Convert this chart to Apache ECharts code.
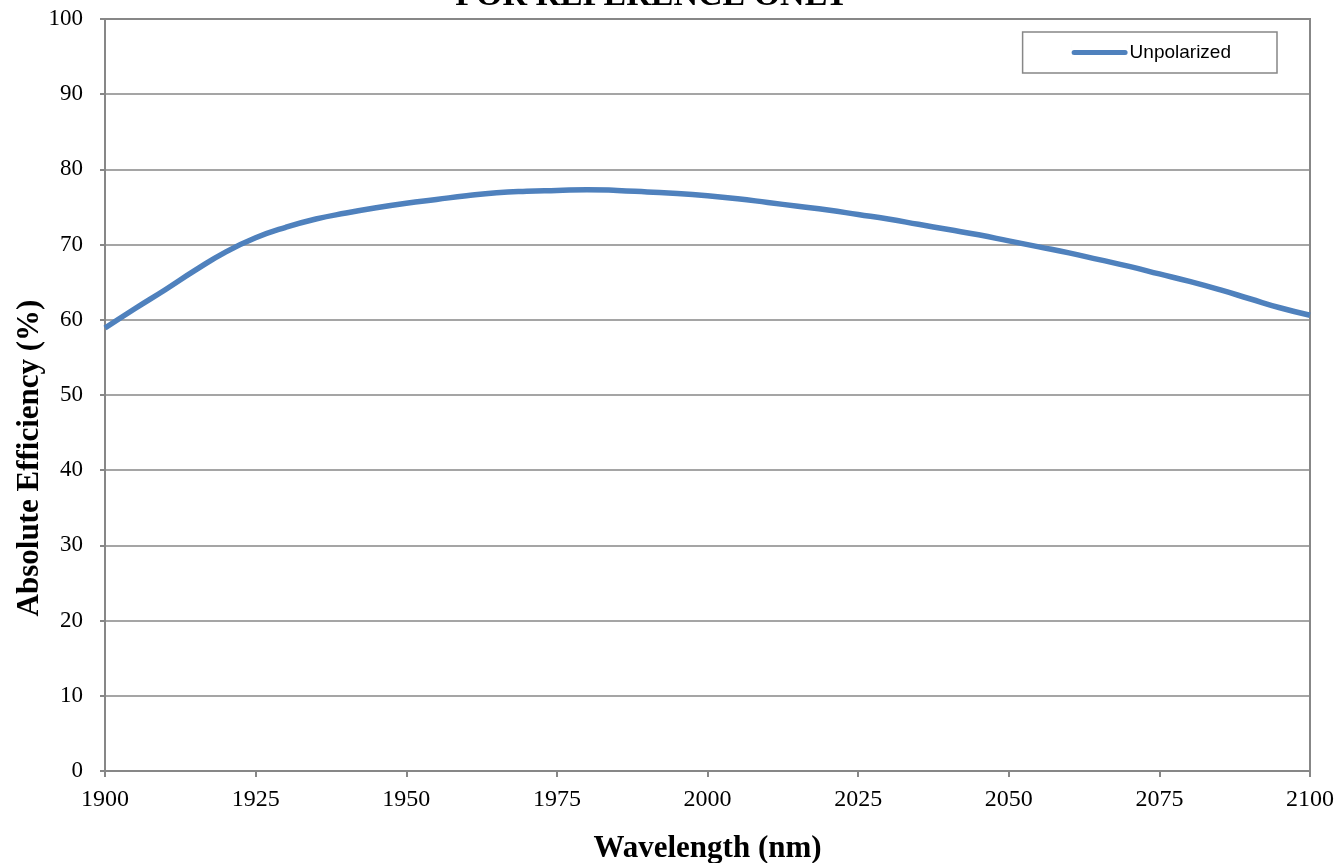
<!DOCTYPE html>
<html><head><meta charset="utf-8">
<script src="https://cdn.jsdelivr.net/npm/echarts@6/dist/echarts.min.js"></script>
<style>html,body{margin:0;padding:0;background:#fff}#c{width:1343px;height:863px}</style>
</head><body><div id="c"></div>
<script>
const wavelengths = [1900,1905,1910,1915,1920,1925,1930,1935,1940,1945,1950,1955,1960,1965,1970,1975,1980,1985,1990,1995,2000,2005,2010,2015,2020,2025,2030,2035,2040,2045,2050,2055,2060,2065,2070,2075,2080,2085,2090,2095,2100];
const unpolarized = [58.9,61.5,64.0,66.6,69.0,70.9,72.3,73.4,74.2,74.9,75.5,76.0,76.5,76.9,77.1,77.2,77.3,77.2,77.0,76.8,76.5,76.1,75.6,75.1,74.6,74.0,73.4,72.7,72.0,71.3,70.5,69.7,68.9,68.0,67.1,66.1,65.1,64.0,62.8,61.6,60.6];
const seriesName = 'Unpolarized';
const titleText = 'FOR REFERENCE ONLY';
const xName = 'Wavelength (nm)';
const yName = 'Absolute Efficiency (%)';

const chart = echarts.init(document.getElementById('c'));
const serif = 'Liberation Serif';
const gray = '#878787';
chart.setOption({
  animation: false,
  grid: {left: 105, right: 33, top: 19, bottom: 92, show: true, borderColor: gray, borderWidth: 2, containLabel: false, outerBoundsMode: 'none'},
  legend: {
    right: 66, top: 32, padding: [11, 46, 11, 49],
    borderColor: gray, borderWidth: 1.5, borderRadius: 0,
    itemWidth: 56, itemHeight: 18, itemGap: 0,
    textStyle: {fontFamily: 'Liberation Sans', fontSize: 19, color: '#000', padding: [0,0,0,-3]},
    data: [{name: seriesName, icon: 'path://M2.5,6.5 L53.5,6.5 A2.5,2.5 0 0 1 53.5,11.5 L2.5,11.5 A2.5,2.5 0 0 1 2.5,6.5 Z M0,0 L0.01,0 L0.01,18 L0,18 Z M56,0 L55.99,0 L55.99,18 L56,18 Z'}]
  },
  graphic: [
    {type: 'text', x: 652, y: -21, style: {text: titleText, font: 'bold 34px "Liberation Serif"', fill: '#000', align: 'center', verticalAlign: 'top'}},
    {type: 'text', x: 30, y: 458, rotation: Math.PI/2, style: {text: yName, font: 'bold 31px "Liberation Serif"', fill: '#000', align: 'center', verticalAlign: 'middle'}}
  ],
  xAxis: {
    type: 'value', min: 1900, max: 2100, interval: 25,
    name: xName, nameLocation: 'middle', nameGap: 62,
    nameTextStyle: {fontFamily: serif, fontWeight: 'bold', fontSize: 31, color: '#000'},
    axisLine: {lineStyle: {color: gray, width: 2}},
    axisTick: {show: true, length: 6, lineStyle: {color: gray, width: 2}},
    axisLabel: {fontFamily: serif, fontSize: 24, color: '#000', margin: 17, formatter: v => String(v)},
    splitLine: {show: false}
  },
  yAxis: {
    type: 'value', min: 0, max: 100, interval: 10,
    axisLine: {show: true, lineStyle: {color: gray, width: 2}},
    axisTick: {show: true, length: 5, lineStyle: {color: gray, width: 2}},
    axisLabel: {fontFamily: serif, fontSize: 23, color: '#000', margin: 22},
    splitLine: {show: true, lineStyle: {color: gray, width: 1.5}}
  },
  series: [{
    name: seriesName, type: 'line', smooth: 0.5, showSymbol: false, symbol: 'none',
    data: wavelengths.map((w, i) => [w, unpolarized[i]]),
    lineStyle: {color: '#4F81BD', width: 5.5},
    itemStyle: {color: '#4F81BD'}
  }]
});
</script></body></html>
